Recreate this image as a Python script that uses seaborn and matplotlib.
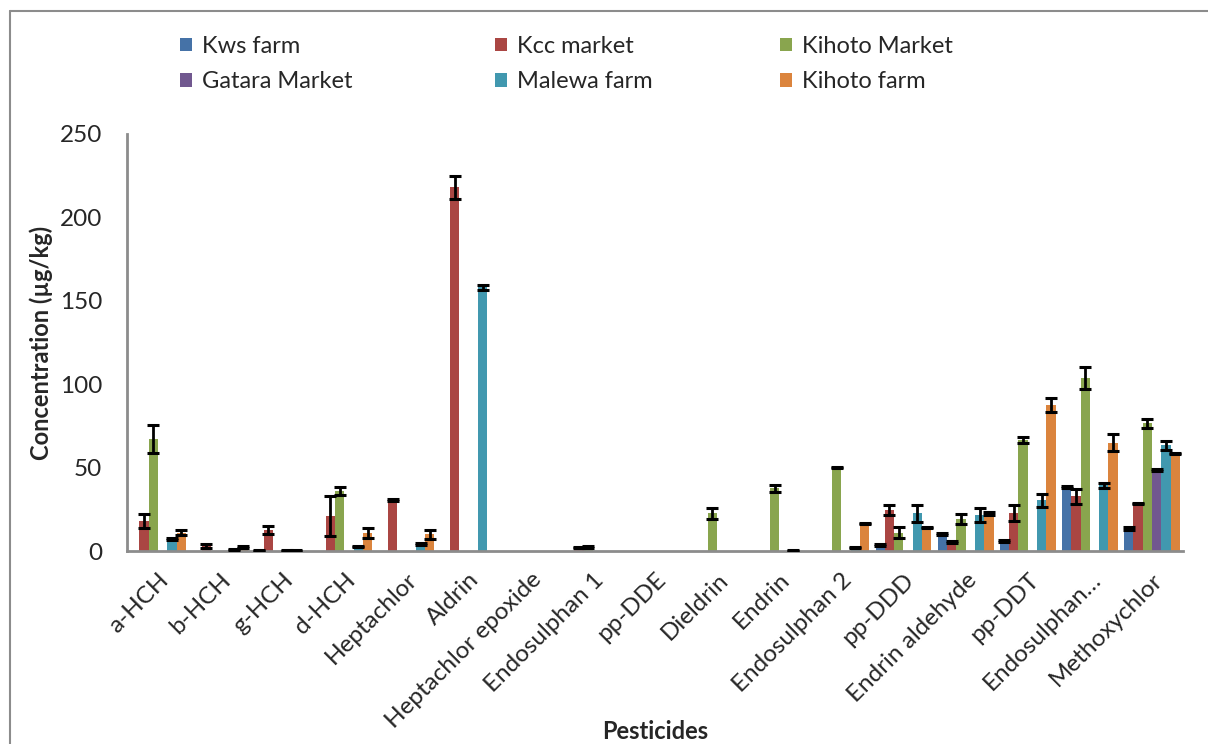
import numpy as np
import pandas as pd
import seaborn as sns
import matplotlib
matplotlib.use("Agg")
import matplotlib.pyplot as plt
from matplotlib.lines import Line2D
from matplotlib.patches import Patch

# Pesticide residues measured at each sampling site (µg/kg), mean and error
pesticides = ["a-HCH", "b-HCH", "g-HCH", "d-HCH", "Heptachlor", "Aldrin",
              "Heptachlor epoxide", "Endosulphan 1", "pp-DDE", "Dieldrin",
              "Endrin", "Endosulphan 2", "pp-DDD", "Endrin aldehyde",
              "pp-DDT", "Endosulphan…", "Methoxychlor"]
sites = ["Kws farm", "Kcc market", "Kihoto Market",
         "Gatara Market", "Malewa farm", "Kihoto farm"]

kws_farm      = [0, 0, 0.3, 0, 0, 0, 0, 0, 0, 0, 0, 0, 3.5, 10, 6, 38.5, 13.4]
kcc_market    = [18, 3, 12.7, 21, 30.5, 218, 0, 2, 0, 0, 0, 0, 24.5, 5.5, 22.8, 32.7, 28.5]
kihoto_market = [67, 0, 0, 36, 0, 0, 0, 2.5, 0, 22.5, 37.5, 50, 11, 19, 66.8, 103.8, 76.6]
gatara_market = [0, 0, 0.3, 0, 0, 0, 0, 0, 0, 0, 0, 0, 0, 0, 0, 0, 48.5]
malewa_farm   = [7, 1, 0.3, 2.6, 4, 158, 0, 0, 0, 0, 0.5, 2, 22.5, 21.5, 30.4, 39.5, 63.4]
kihoto_farm   = [11, 2.5, 0, 10.5, 10, 0, 0, 0, 0, 0, 0, 16.5, 14, 22.5, 87.6, 65, 58.5]

kws_err      = [0, 0, 0.2, 0, 0, 0, 0, 0, 0, 0, 0, 0, 0.5, 0.5, 0.5, 0.5, 1]
kcc_err      = [4, 1, 2.5, 12, 0.6, 6.7, 0, 0.3, 0, 0, 0, 0, 3, 0.5, 4.6, 4.3, 0.5]
kihoto_m_err = [8.5, 0, 0, 2.4, 0, 0, 0, 0.5, 0, 3.2, 2.2, 0.5, 3.5, 3, 1.8, 6.7, 2.7]
gatara_err   = [0, 0, 0.2, 0, 0, 0, 0, 0, 0, 0, 0, 0, 0, 0, 0, 0, 0.5]
malewa_err   = [0.5, 0.4, 0.2, 0.5, 0.5, 1.3, 0, 0, 0, 0, 0.3, 0.5, 5, 4.3, 3.8, 1.5, 2.7]
kihoto_f_err = [1.3, 0.5, 0, 3, 2.8, 0, 0, 0, 0, 0, 0, 0.5, 0.5, 0.7, 4.3, 4.9, 0.5]

series = [kws_farm, kcc_market, kihoto_market, gatara_market, malewa_farm, kihoto_farm]
errors = [kws_err, kcc_err, kihoto_m_err, gatara_err, malewa_err, kihoto_f_err]
colors = ["#4572A7", "#AA4643", "#89A54E", "#71588F", "#4198AF", "#DB843D"]

rows = []
for site, vals in zip(sites, series):
    for p, v in zip(pesticides, vals):
        rows.append({"Pesticides": p, "Site": site, "Value": v})
df = pd.DataFrame(rows)

sns.set_theme(style="white")
plt.rcParams["font.family"] = ["Lato", "DejaVu Sans"]

W, H = 1208, 744
fig = plt.figure(figsize=(W / 100, H / 100), dpi=100)
ax = fig.add_axes([127 / W, 1 - 551 / H, (1183 - 127) / W, (551 - 134) / H])

sns.barplot(data=df, x="Pesticides", y="Value", hue="Site",
            order=pesticides, hue_order=sites, palette=colors,
            width=0.9, errorbar=None, linewidth=0, saturation=1,
            legend=False, ax=ax)

# error bars placed on each drawn bar
n_hue = len(sites)
bw = 0.9 / n_hue
for patch in ax.patches:
    xc = patch.get_x() + patch.get_width() / 2
    i = int(round(xc))
    j = int(round((xc - i + 0.45 - bw / 2) / bw))
    if not (0 <= i < len(pesticides) and 0 <= j < n_hue):
        continue
    v = series[j][i]
    e = errors[j][i]
    if v <= 0 and e <= 0:
        continue
    ax.errorbar(xc, v, yerr=e, fmt="none", ecolor="black",
                elinewidth=2, capsize=4.3, capthick=2.2, zorder=3)

ax.set_ylim(0, 250)
ax.set_xlim(-0.5, len(pesticides) - 0.5)
ax.set_yticks([0, 50, 100, 150, 200, 250])
ax.tick_params(axis="y", labelsize=17.5, length=0, pad=18)
ax.tick_params(axis="x", labelsize=17.5, length=0, pad=13)
for lbl in ax.get_xticklabels():
    lbl.set_rotation(45)
    lbl.set_ha("right")
    lbl.set_va("top")
    lbl.set_rotation_mode("anchor")

for side in ["top", "right"]:
    ax.spines[side].set_visible(False)
for side in ["left", "bottom"]:
    ax.spines[side].set_color("#8c8c8c")
    ax.spines[side].set_linewidth(2)

ax.set_xlabel("Pesticides", fontsize=17, fontweight="bold")
ax.set_ylabel("Concentration (µg/kg)", fontsize=17, fontweight="bold")
ax.xaxis.set_label_coords(0.5, -0.405)
ax.yaxis.set_label_coords(-0.07, 0.5)

# legend: three columns of two entries
cols = [(0, 3), (1, 4), (2, 5)]
col_x = [168, 483, 768]
for (a, b), x0 in zip(cols, col_x):
    handles = [Patch(facecolor=colors[k], edgecolor="none") for k in (a, b)]
    fig.legend(handles, [sites[a], sites[b]], loc="upper left",
               bbox_to_anchor=(x0 / W, 1 - 24 / H), frameon=False,
               fontsize=17, handlelength=0.5, handleheight=0.5,
               handletextpad=0.45, labelspacing=0.62, borderpad=0)

# chart-area border
border = dict(color="#8c8c8c", linewidth=1.5, transform=fig.transFigure)
fig.add_artist(Line2D([10 / W, 10 / W], [0, 1 - 11 / H], **border))
fig.add_artist(Line2D([10 / W, 1], [1 - 11 / H, 1 - 11 / H], **border))

fig.savefig("out.png", dpi=100, facecolor="white")
